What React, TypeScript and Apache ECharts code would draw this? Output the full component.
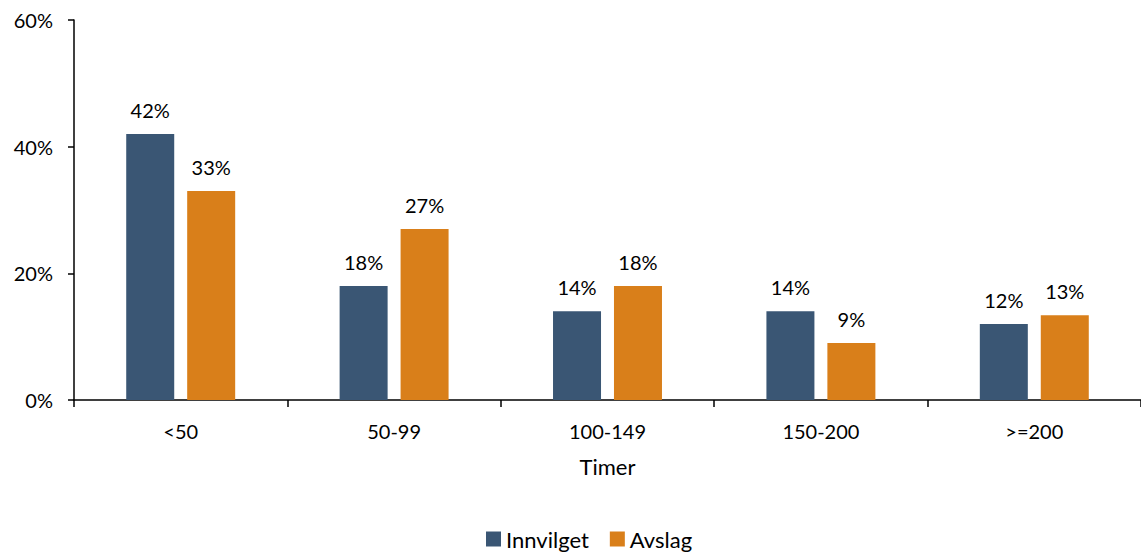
import React, { useEffect, useRef } from "react";
import * as echarts from "echarts";

// Hour brackets and the share of applications in each
const categories = ["<50", "50-99", "100-149", "150-200", ">=200"];
const innvilget = [42, 18, 14, 14, 12];
const avslag = [33, 27, 18, 9, 13.4];
const yTicks = [0, 20, 40, 60];

const FONT = "Lato, 'Open Sans', sans-serif";
const BLUE = "#3a5674";
const ORANGE = "#d97f1a";

export default function App() {
  const ref = useRef<HTMLDivElement>(null);

  useEffect(() => {
    if (!ref.current) return;
    const chart = echarts.init(ref.current, null, { renderer: "svg" });
    const label = {
      show: true,
      position: "top" as const,
      distance: 14,
      fontFamily: FONT,
      fontSize: 20,
      color: "#000",
      formatter: (p: any) => `${Math.round(p.value)}%`,
    };
    chart.setOption({
      animation: false,
      backgroundColor: "#fff",
      grid: { left: 74, right: -3, top: 20, bottom: 152 },
      legend: {
        bottom: -3,
        left: 481,
        itemWidth: 15,
        itemHeight: 15,
        itemGap: 21,
        icon: "rect",
        textStyle: { fontFamily: FONT, fontSize: 22, color: "#000" },
        data: ["Innvilget", "Avslag"],
      },
      xAxis: {
        type: "category",
        data: categories,
        name: "Timer",
        nameLocation: "middle",
        nameGap: 55,
        nameTextStyle: { fontFamily: FONT, fontSize: 22, color: "#000" },
        axisLine: { lineStyle: { color: "#000", width: 1.5 } },
        axisTick: { show: true, length: 7, alignWithLabel: false, lineStyle: { color: "#000", width: 1.5 } },
        axisLabel: { fontFamily: FONT, fontSize: 20, color: "#000", margin: 21 },
      },
      yAxis: {
        type: "value",
        min: yTicks[0],
        max: yTicks[yTicks.length - 1],
        interval: 20,
        axisLine: { show: true, lineStyle: { color: "#000", width: 1.5 } },
        axisTick: { show: true, length: 6, lineStyle: { color: "#000", width: 1.5 } },
        splitLine: { show: false },
        axisLabel: {
          fontFamily: FONT,
          fontSize: 20,
          color: "#000",
          margin: 21,
          formatter: (v: number) => `${v}%`,
        },
      },
      series: [
        {
          name: "Innvilget",
          type: "bar",
          data: innvilget,
          barWidth: 48,
          barGap: "27%",
          itemStyle: { color: BLUE },
          label,
        },
        {
          name: "Avslag",
          type: "bar",
          data: avslag,
          barWidth: 48,
          itemStyle: { color: ORANGE },
          label,
        },
      ],
    });
    return () => chart.dispose();
  }, []);

  return (
    <div
      ref={ref}
      style={{ position: "absolute", left: 0, top: 0, width: 1141, height: 552 }}
    />
  );
}
